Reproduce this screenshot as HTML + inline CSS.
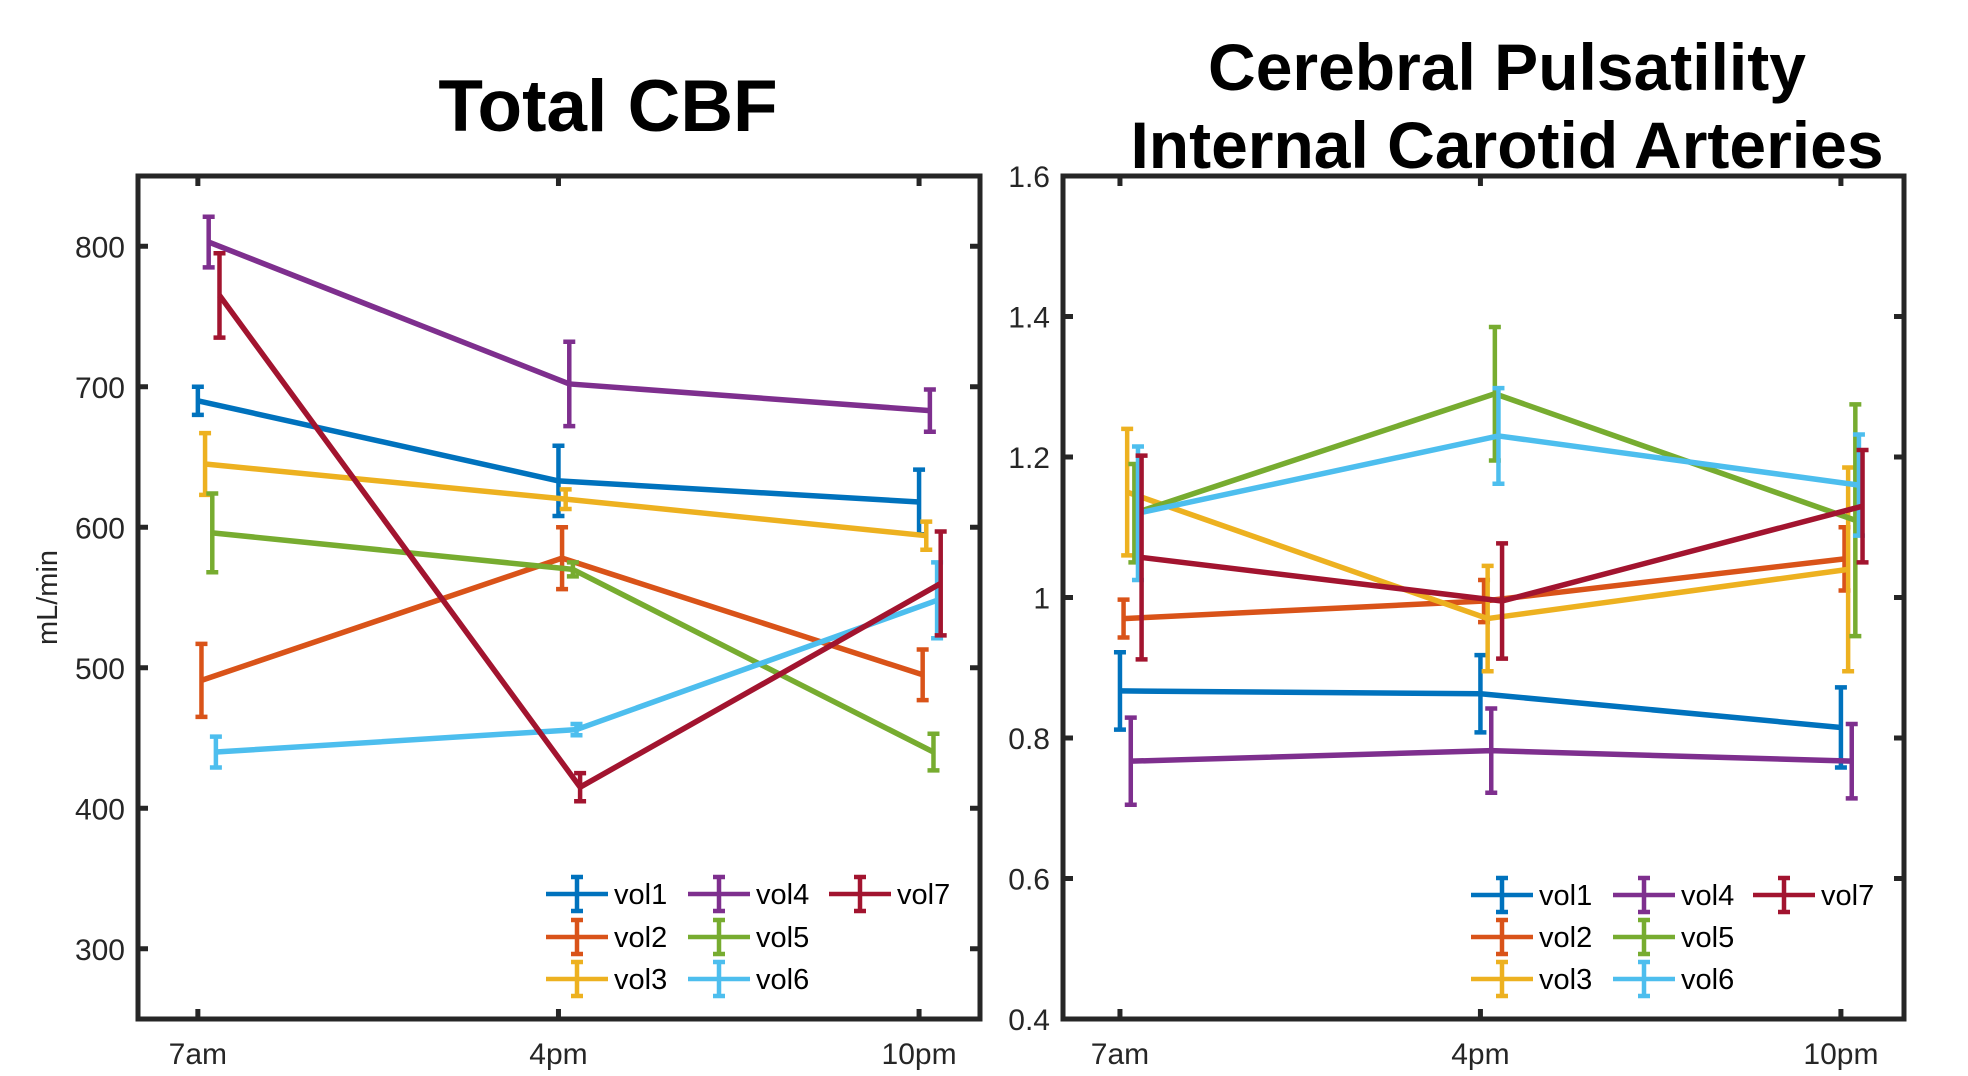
<!DOCTYPE html>
<html><head><meta charset="utf-8"><style>
html,body{margin:0;padding:0;background:#fff;}
svg{display:block;font-family:"Liberation Sans",Arial,sans-serif;}
</style></head><body>
<svg id="fig" width="1968" height="1076" viewBox="0 0 1968 1076" xmlns="http://www.w3.org/2000/svg">
<text x="608" y="131" text-anchor="middle" font-size="73" font-weight="bold">Total CBF</text>
<text x="1507" y="90" text-anchor="middle" font-size="66" font-weight="bold">Cerebral Pulsatility</text>
<text x="1507" y="168" text-anchor="middle" font-size="66" font-weight="bold">Internal Carotid Arteries</text>
<g id="left"></g>
<g id="right"></g>
</svg>
<script>
const categories = ["7am","4pm","10pm"];
const seriesNames = ["vol1","vol2","vol3","vol4","vol5","vol6","vol7"];
const colors = ["#0072BD","#D95319","#EDB120","#7E2F8E","#77AC30","#4DBEEE","#A2142F"];
const xOffsets = [0,0.01,0.02,0.03,0.04,0.05,0.06];
// Total CBF
const cbfValues = [[690,633,618],[491,578,495],[645,620,594],[803,702,683],[596,570,440],[440,456,548],[765,415,560]];
const cbfErrors = [[10,25,23],[26,22,18],[22,7,10],[18,30,15],[28,5,13],[11,4,27],[30,10,37]];
const cbfTicks = [300,400,500,600,700,800];
const cbfTickLabels = ["300","400","500","600","700","800"];
// Pulsatility
const pulValues = [[0.867,0.863,0.815],[0.97,0.995,1.055],[1.15,0.97,1.04],[0.767,0.782,0.767],[1.12,1.29,1.11],[1.12,1.23,1.16],[1.057,0.995,1.13]];
const pulErrors = [[0.055,0.055,0.057],[0.027,0.03,0.045],[0.09,0.075,0.145],[0.062,0.06,0.053],[0.07,0.095,0.165],[0.095,0.068,0.072],[0.145,0.082,0.08]];
const pulTicks = [0.4,0.6,0.8,1.0,1.2,1.4,1.6];
const pulTickLabels = ["0.4","0.6","0.8","1","1.2","1.4","1.6"];

const NS="http://www.w3.org/2000/svg";
function mk(parent,tag,attrs){const e=document.createElementNS(NS,tag);for(const k in attrs)e.setAttribute(k,attrs[k]);parent.appendChild(e);return e;}

function drawChart(g,box,xlim,ylim,values,errors,ticks,tickLabels,legend,ylabel,prefix){
  const sx=v=>box.l+(v-xlim[0])/(xlim[1]-xlim[0])*(box.r-box.l);
  const sy=v=>box.b-(v-ylim[0])/(ylim[1]-ylim[0])*(box.b-box.t);
  ticks.forEach((t,i)=>{
    const y=sy(t);
    const tl=mk(g,'line',{x1:box.l,x2:box.l+10,y1:y,y2:y,stroke:'#262626','stroke-width':5});
    
    
    const tr=mk(g,'line',{x1:box.r-10,x2:box.r,y1:y,y2:y,stroke:'#262626','stroke-width':5});
    
    
    const tx=mk(g,'text',{x:box.l-13,y:y+11,'text-anchor':'end','font-size':30,fill:'#262626'});
    tx.textContent=tickLabels[i];
    
    
  });
  categories.forEach((c,i)=>{
    const x=sx(i+1);
    const t1=mk(g,'line',{x1:x,x2:x,y1:box.b-10,y2:box.b,stroke:'#262626','stroke-width':5});
    
    
    const t2=mk(g,'line',{x1:x,x2:x,y1:box.t,y2:box.t+10,stroke:'#262626','stroke-width':5});
    
    
    const tx=mk(g,'text',{x:x,y:box.b+45,'text-anchor':'middle','font-size':30,fill:'#262626'});
    tx.textContent=c;
    
    
  });
  if(ylabel){
    const yl=mk(g,'text',{x:0,y:0,'text-anchor':'middle','font-size':29,fill:'#262626',transform:`translate(57,${(box.t+box.b)/2}) rotate(-90)`});
    yl.textContent=ylabel;
    
    
  }
  values.forEach((vals,s)=>{
    const sg=mk(g,'g',{});
    
    
    const pts=vals.map((v,i)=>[sx(i+1+xOffsets[s]),sy(v)]);
    const pl=mk(sg,'polyline',{points:pts.map(p=>p.join(',')).join(' '),fill:'none',stroke:colors[s],'stroke-width':5.5,'stroke-linejoin':'round'});
    
    
    vals.forEach((v,i)=>{
      const x=sx(i+1+xOffsets[s]),y1=sy(v-errors[s][i]),y2=sy(v+errors[s][i]);
      const eb=mk(sg,'path',{d:`M${x},${y1}V${y2}M${x-6},${y1}H${x+6}M${x-6},${y2}H${x+6}`,stroke:colors[s],'stroke-width':4.5,fill:'none'});
      
      
    });
  });
  const bx=mk(g,'rect',{x:box.l,y:box.t,width:box.r-box.l,height:box.b-box.t,fill:'none',stroke:'#262626','stroke-width':5});
  
  
  const lg=mk(g,'g',{});
  
  
  seriesNames.forEach((n,s)=>{
    const col=Math.floor(s/3),row=s%3;
    const x0=legend.x[col],y=legend.y[row];
    const eg=mk(lg,'g',{});
    
    
    mk(eg,'path',{d:`M${x0},${y}H${x0+62}M${x0+31},${y-17}V${y+17}M${x0+25},${y-17}H${x0+37}M${x0+25},${y+17}H${x0+37}`,stroke:colors[s],'stroke-width':4.5,fill:'none'});
    const t=mk(eg,'text',{x:x0+68,y:y+10,'font-size':29,fill:'#000'});
    t.textContent=n;
  });
}
drawChart(document.getElementById('left'),{l:138,r:980,t:176,b:1019},[0.834,3.169],[250,850],cbfValues,cbfErrors,cbfTicks,cbfTickLabels,{x:[546,688,829],y:[894,937,979]},'mL/min','cbf');
drawChart(document.getElementById('right'),{l:1063,r:1904,t:176,b:1019},[0.842,3.175],[0.4,1.6],pulValues,pulErrors,pulTicks,pulTickLabels,{x:[1471,1613,1753],y:[895,937,979]},null,'pulsatility');
</script>
</body></html>
